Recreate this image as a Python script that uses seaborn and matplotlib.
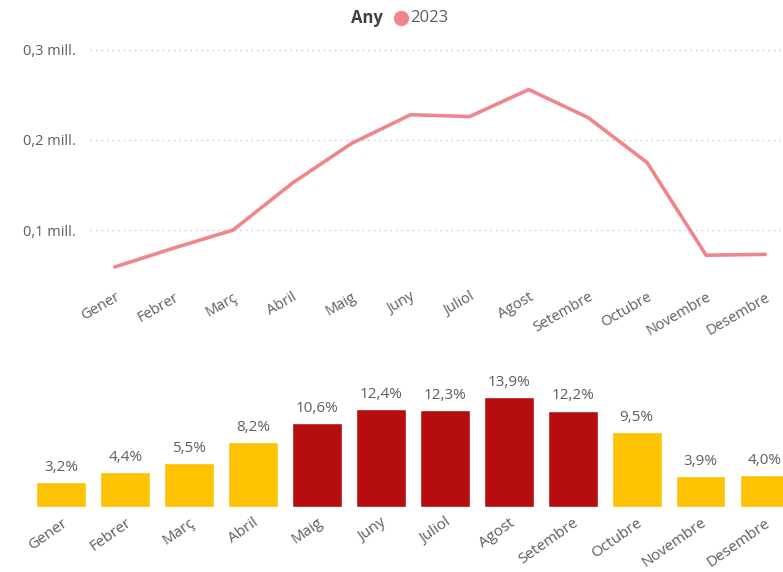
import numpy as np
import pandas as pd
import seaborn as sns
from matplotlib import pyplot as plt
from matplotlib.lines import Line2D

# data
mesos = ["Gener", "Febrer", "Març", "Abril", "Maig", "Juny", "Juliol",
         "Agost", "Setembre", "Octubre", "Novembre", "Desembre"]
valors = [0.059, 0.080, 0.100, 0.152, 0.196, 0.228, 0.226,
          0.256, 0.225, 0.175, 0.072, 0.073]  # milions
percent = [3.2, 4.4, 5.5, 8.2, 10.6, 12.4, 12.3, 13.9, 12.2, 9.5, 3.9, 4.0]
alt = ["no", "no", "no", "no", "si", "si", "si", "si", "si", "no", "no", "no"]

sns.set_theme(style="white")
plt.rcParams['font.family'] = ['Open Sans', 'DejaVu Sans']

grey = "#605E5C"
line_col = "#F0868B"
pal = {"no": "#FDC300", "si": "#B40E0E"}

df = pd.DataFrame({"mes": mesos, "valor": valors, "pct": percent, "alt": alt})
df["x"] = np.arange(len(mesos))

W, H = 783, 572
fig = plt.figure(figsize=(W / 100, H / 100), dpi=100)

# line chart
ax1 = fig.add_axes([90 / W, 1 - 280 / H, (W - 90) / W, 240 / H])
sns.lineplot(data=df, x="x", y="valor", ax=ax1, color=line_col, linewidth=2.6)
ax1.set_xlim(-0.42, 11.3)
ax1.set_ylim(0.0445, 0.311)
ax1.set_yticks([0.1, 0.2, 0.3])
ax1.set_yticklabels(["0,1 mill.", "0,2 mill.", "0,3 mill."], color=grey, fontsize=10.5)
ax1.set_xticks(df["x"])
ax1.set_xticklabels(mesos, rotation=30, ha="right", rotation_mode="anchor",
                    color=grey, fontsize=10.5)
ax1.tick_params(axis="x", length=0, pad=7)
ax1.tick_params(axis="y", length=0, pad=10)
ax1.grid(axis="y", linestyle=(0, (1, 3)), color="#C8C8C8", linewidth=1)
ax1.set_xlabel("")
ax1.set_ylabel("")
sns.despine(ax=ax1, left=True, bottom=True)

# legend
ly = 1 - 18 / H
fig.text(383 / W, ly, "Any", ha="right", va="center",
         fontsize=12, fontweight="bold", color="#404040")
fig.add_artist(Line2D([401 / W], [ly], marker="o", markersize=10, color=line_col,
                      linestyle="none", transform=fig.transFigure))
fig.text(410 / W, ly, "2023", ha="left", va="center",
         fontsize=12, color=grey)

# bar chart
ax2 = fig.add_axes([0, 1 - 507 / H, 1, 140 / H])
sns.barplot(data=df, x="mes", y="pct", hue="alt", palette=pal, dodge=False,
            width=0.78, ax=ax2, legend=False, saturation=1)
ax2.set_xlim(-0.96, 11.29)
ax2.set_ylim(0, 17.7)
for i, p in enumerate(percent):
    ax2.text(i, p + 0.9, f"{p:.1f}%".replace(".", ","), ha="center", va="bottom",
             color=grey, fontsize=11)
ax2.set_yticks([])
ax2.set_xticks(range(len(mesos)))
ax2.set_xticklabels(mesos, rotation=35, ha="right", rotation_mode="anchor",
                    color=grey, fontsize=11)
ax2.tick_params(axis="x", length=0, pad=6)
ax2.set_xlabel("")
ax2.set_ylabel("")
sns.despine(ax=ax2, left=True, bottom=True)

fig.savefig("out.png", dpi=100)
